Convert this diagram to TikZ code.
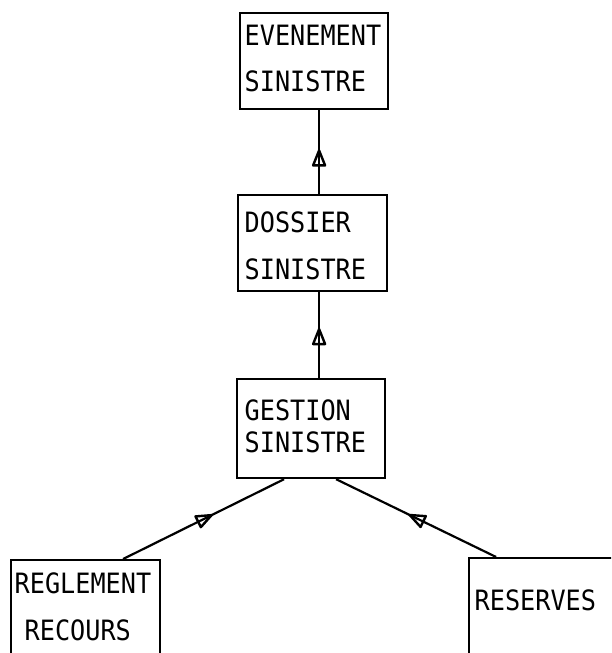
\documentclass[tikz,border=0pt]{standalone}
\usepackage{fontspec}
\newfontfamily\boxfont[FakeStretch=0.9]{DejaVu Sans Mono}
\usetikzlibrary{arrows.meta,decorations.markings}
\tikzset{
  box/.style={draw, line width=2.2pt, inner sep=0pt, anchor=north west},
  lbl/.style={inner sep=0pt, anchor=north west, align=left,
    font=\boxfont\fontsize{28}{#1}\selectfont},
  link/.style={line width=2.2pt, postaction={decorate},
    decoration={markings, mark=at position #1 with
      {\draw[line width=2.4pt, line join=round] (-15pt,-6pt) -- (0pt,0pt) -- (-15pt,6pt) -- cycle;}}},
}
\begin{document}
\begin{tikzpicture}[x=1pt,y=-1pt]
\useasboundingbox (0,0) rectangle (611,653);
\clip (0,0) rectangle (611,653);
% boxes
\node[box, minimum width=148pt, minimum height=96pt] (b1) at (239,12) {};
\node[box, minimum width=149pt, minimum height=96pt] (b2) at (237,194) {};
\node[box, minimum width=148pt, minimum height=99pt] (b3) at (236,378) {};
\node[box, minimum width=149pt, minimum height=130pt] (rr) at (10,559) {};
\node[box, minimum width=180pt, minimum height=130pt] (rs) at (468,557) {};
% labels
\node[lbl=45.5] (t1) at (244.5,25) {EVENEMENT\\SINISTRE};
\node[lbl=47] (t2) at (244.5,212) {DOSSIER\\SINISTRE};
\node[lbl=32] (t3) at (244.5,400) {GESTION\\SINISTRE};
\node[lbl=47] (t4) at (14.5,573) {REGLEMENT\\\hspace*{10pt}RECOURS};
\node[lbl=30] (t5) at (474.5,590) {RESERVES};
% connectors
\draw[link=0.52] ([xshift=6.5pt]b2.north) -- ([xshift=5pt]b1.south);
\draw[link=0.57] ([xshift=8pt]b3.north) -- ([xshift=6.5pt]b2.south);
\draw[link=0.55] ([xshift=37.5pt]rr.north) -- ([xshift=-27pt]b3.south);
\draw[link=0.54] ([xshift=-63pt]rs.north) -- ([xshift=25pt]b3.south);
\end{tikzpicture}
\end{document}
